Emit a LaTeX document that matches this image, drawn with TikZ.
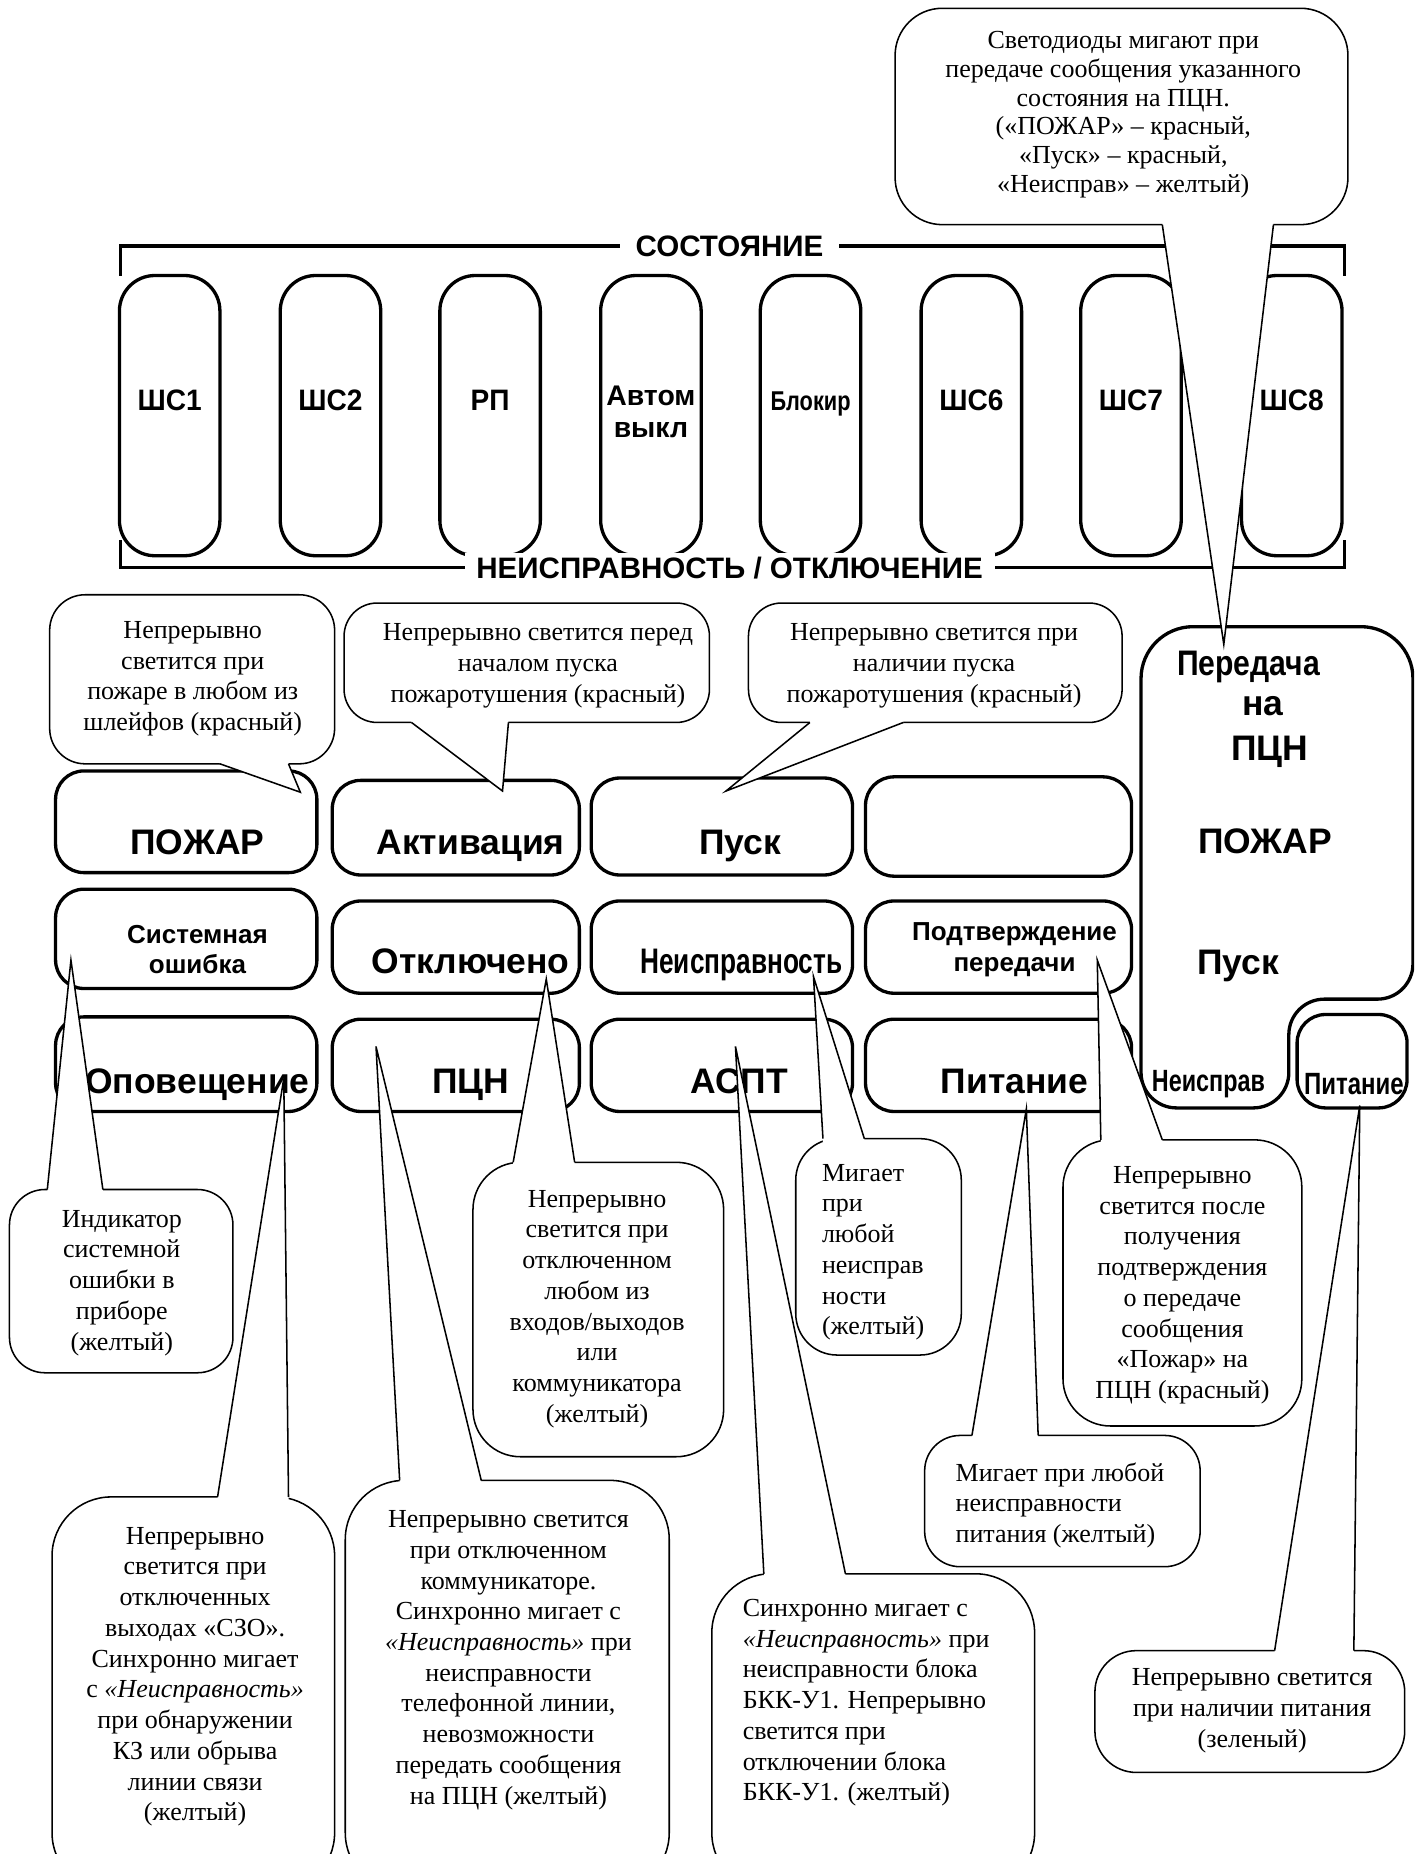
\documentclass[tikz,border=0pt]{standalone}
\usepackage{fontspec}
\setmainfont{Liberation Serif}
\setsansfont{Liberation Sans}
\usetikzlibrary{fit,calc}
\newcommand\fsz[2]{\fontsize{#1}{#2}\selectfont}
\newcommand\ctail[4]{%
  \fill[white] ($(#1)+(0,#4)$) -- (#1) -- (#2) -- (#3) -- ($(#3)+(0,#4)$) -- cycle;
  \draw[tailline] (#1) -- (#2) -- (#3);}
\begin{document}
\begin{tikzpicture}[x=1pt,y=-1pt,
  shbox/.style={draw, line width=2.8pt, rounded corners=30pt, inner sep=0pt},
  pbox/.style={draw, line width=2.8pt, rounded corners=24pt, inner sep=0pt},
  cbox/.style={draw, fill=white, line width=1.3pt, inner sep=0pt},
  tailline/.style={line width=1.3pt},
  ctext/.style={inner sep=0pt, align=center, font=\rmfamily\fsz{22}{26}},
  ltext/.style={inner sep=0pt, align=left, anchor=west, font=\rmfamily\fsz{22}{26}},
  lbl/.style={inner sep=0pt, anchor=base, font=\sffamily\bfseries\fsz{30}{34}},
  brk/.style={line width=2.8pt},
]
\clip (0,0) rectangle (1196,1568);
\fill[white] (0,0) rectangle (1196,1568);

% ---------- upper indicator strip ----------
\foreach \i/\x in {1/101,2/237,3/372,4/508,5/643,6/779,7/914,8/1050}
  \node[shbox, fit={(\x,233)(\x+85,470)}] (s\i) {};
\draw[brk] (102,233) -- (102,208) -- (1137,208) -- (1137,233);
\draw[brk] (102,457) -- (102,480) -- (1137,480) -- (1137,457);
\node[lbl, anchor=center, fill=white, inner xsep=13pt, inner ysep=3pt,
      font=\sffamily\bfseries\fsz{25}{28}] (sost) at (617,208) {СОСТОЯНИЕ};
\node[lbl, fill=white, inner xsep=10pt, inner ysep=3pt,
      font=\sffamily\bfseries\fsz{25}{28}] (neis) at (617,489) {НЕИСПРАВНОСТЬ / ОТКЛЮЧЕНИЕ};

\foreach \n/\x/\t in {1/143.5/ШС1,2/279.5/ШС2,3/414.5/РП,6/821.5/ШС6,7/956.5/ШС7,8/1092.5/ШС8}
  \node[lbl, font=\sffamily\bfseries\fsz{25}{28}] (l\n) at (\x,347) {\scalebox{0.95}[1]{\t}};
\node[inner sep=0pt, align=center, font=\sffamily\bfseries\fsz{24}{27}] (l4) at (550.5,348) {Автом\\выкл};
\node[lbl, font=\sffamily\bfseries\fsz{23}{26}] (l5) at (685.5,347) {\scalebox{0.8}[1]{Блокир}};

% ---------- lower panel ----------
\node[pbox, fit={(47,652)(268,738)}] (p11) {};
\node[pbox, fit={(281,660)(490,740)}] (p12) {};
\node[pbox, fit={(500,658)(721,740)}] (p13) {};
\node[pbox, fit={(732,657)(957,741)}] (p14) {};
\node[pbox, fit={(47,752)(268,836)}] (p21) {};
\node[pbox, fit={(281,762)(490,840)}] (p22) {};
\node[pbox, fit={(500,762)(721,840)}] (p23) {};
\node[pbox, fit={(732,762)(957,840)}] (p24) {};
\node[pbox, fit={(47,860)(268,940)}] (p31) {};
\node[pbox, fit={(281,862)(490,940)}] (p32) {};
\node[pbox, fit={(500,862)(721,940)}] (p33) {};
\node[pbox, fit={(732,862)(957,940)}] (p34) {};
\node[pbox, fit={(1097,858)(1190,937)}] (p35) {};
\draw[line width=2.8pt] (965,700) [rounded corners=44pt] -- (965,530) -- (1195,530) -- (1195,640)
   [rounded corners=30pt] -- (1195,845) -- (1090,845) -- (1090,937) -- (965,937) -- cycle;

\node[lbl] (t11) at (167,723) {ПОЖАР};
\node[lbl] (t12) at (398,723) {Активация};
\node[lbl] (t13) at (626,723) {Пуск};
\node[inner sep=0pt, align=center, font=\sffamily\bfseries\fsz{22}{26}] (t21) at (167,803) {Системная\\ошибка};
\node[lbl] (t22) at (398,823) {Отключено};
\node[lbl] (t23) at (627,823) {\scalebox{0.74}[1]{Неисправность}};
\node[inner sep=0pt, align=center, font=\sffamily\bfseries\fsz{22}{26}] (t24) at (858,803) {Подтверждение\\передачи};
\node[lbl] (t31) at (167,925) {Оповещение};
\node[lbl] (t32) at (398,925) {ПЦН};
\node[lbl] (t33) at (625,925) {АСПТ};
\node[lbl] (t34) at (858,925) {Питание};
\node[lbl] (r1) at (1056,571) {\scalebox{0.85}[1]{Передача}};
\node[lbl] (r2) at (1068,605) {на};
\node[lbl] (r3) at (1074,643) {ПЦН};
\node[lbl] (r4) at (1070,722) {ПОЖАР};
\node[lbl] (r5) at (1047,824) {Пуск};
\node[lbl, font=\sffamily\bfseries\fsz{26}{30}] (r6) at (1022,923) {\scalebox{0.76}[1]{Неисправ}};
\node[lbl, font=\sffamily\bfseries\fsz{26}{30}] (r7) at (1145,926) {\scalebox{0.78}[1]{Питание}};

% ---------- callouts ----------
% C1
\node[cbox, rounded corners=40pt, fit={(757,7)(1140,190)}] (c1) {};
\coordinate (c1a) at (983,190); \coordinate (c1t) at (1035,545); \coordinate (c1b) at (1077,190);
\ctail{c1a}{c1t}{c1b}{-3}
\node[ctext, font=\rmfamily\fsz{22}{24.4}] (c1x) at (950,97) {Светодиоды мигают при\\передаче сообщения указанного\\состояния на ПЦН.\\(«ПОЖАР» – красный,\\«Пуск» – красный,\\«Неисправ» – желтый)};
% C2
\node[cbox, rounded corners=30pt, fit={(42,503)(283,646)}] (c2) {};
\coordinate (c2a) at (186,646); \coordinate (c2t) at (254,670); \coordinate (c2b) at (244,646);
\ctail{c2a}{c2t}{c2b}{-3}
\node[ctext] (c2x) at (163,574) {Непрерывно\\светится при\\пожаре в любом из\\шлейфов (красный)};
% C3
\node[cbox, rounded corners=28pt, fit={(291,510)(600,611)}] (c3) {};
\coordinate (c3a) at (348,611); \coordinate (c3t) at (425,669); \coordinate (c3b) at (430,611);
\ctail{c3a}{c3t}{c3b}{-3}
\node[ctext] (c3x) at (455,563) {Непрерывно светится перед\\началом пуска\\пожаротушения (красный)};
% C4
\node[cbox, rounded corners=28pt, fit={(633,510)(949,611)}] (c4) {};
\coordinate (c4a) at (685,611); \coordinate (c4t) at (614,669); \coordinate (c4b) at (764,611);
\ctail{c4a}{c4t}{c4b}{-3}
\node[ctext] (c4x) at (790,563) {Непрерывно светится при\\наличии пуска\\пожаротушения (красный)};
% C5
\node[cbox, rounded corners=30pt, fit={(8,1006)(197,1161)}] (c5) {};
\coordinate (c5a) at (40,1006); \coordinate (c5t) at (60,812); \coordinate (c5b) at (87,1006);
\ctail{c5a}{c5t}{c5b}{3}
\node[ctext] (c5x) at (103,1085) {Индикатор\\системной\\ошибки в\\приборе\\(желтый)};
% C6
\node[cbox, rounded corners=50pt, fit={(44,1266)(283,1600)}] (c6) {};
\coordinate (c6a) at (184,1266); \coordinate (c6t) at (240,912); \coordinate (c6b) at (244,1266);
\ctail{c6a}{c6t}{c6b}{3}
\node[ctext] (c6x) at (165,1418) {Непрерывно\\светится при\\отключенных\\выходах «СЗО».\\Синхронно мигает\\с \textit{«Неисправность»}\\при обнаружении\\КЗ или обрыва\\линии связи\\(желтый)};
% C7a
\node[cbox, rounded corners=40pt, fit={(400,983)(612,1232)}] (c7) {};
\coordinate (c7a) at (434,983); \coordinate (c7t) at (462,828); \coordinate (c7b) at (486,983);
\ctail{c7a}{c7t}{c7b}{3}
\node[ctext] (c7x) at (505,1107) {Непрерывно\\светится при\\отключенном\\любом из\\входов/выходов\\или\\коммуникатора\\(желтый)};
% C7b
\node[cbox, rounded corners=50pt, fit={(292,1252)(566,1600)}] (c8) {};
\coordinate (c8a) at (338,1252); \coordinate (c8t) at (318,885); \coordinate (c8b) at (407,1252);
\ctail{c8a}{c8t}{c8b}{3}
\node[ctext] (c8x) at (430,1404) {Непрерывно светится\\при отключенном\\коммуникаторе.\\Синхронно мигает с\\\textit{«Неисправность»} при\\неисправности\\телефонной линии,\\невозможности\\передать сообщения\\на ПЦН (желтый)};
% C8
\node[cbox, rounded corners=35pt, fit={(673,963)(813,1146)}] (c9) {};
\coordinate (c9a) at (696,963); \coordinate (c9t) at (688,826); \coordinate (c9b) at (731,963);
\ctail{c9a}{c9t}{c9b}{3}
\node[ltext] (c9x) at (695,1059) {Мигает\\при\\любой\\неисправ\\ности\\(желтый)};
% C9
\node[cbox, rounded corners=50pt, fit={(602,1331)(875,1600)}] (c10) {};
\coordinate (c10a) at (646,1331); \coordinate (c10t) at (622,885); \coordinate (c10b) at (715,1331);
\ctail{c10a}{c10t}{c10b}{3}
\node[ltext] (c10x) at (628,1440) {Синхронно мигает с\\\textit{«Неисправность»} при\\неисправности блока\\БКК-У1. Непрерывно\\светится при\\отключении блока\\БКК-У1. (желтый)};
% C10
\node[cbox, rounded corners=40pt, fit={(899,964)(1101,1206)}] (c11) {};
\coordinate (c11a) at (931,964); \coordinate (c11t) at (928,812); \coordinate (c11b) at (983,964);
\ctail{c11a}{c11t}{c11b}{3}
\node[ctext] (c11x) at (1000,1087) {Непрерывно\\светится после\\получения\\подтверждения\\о передаче\\сообщения\\«Пожар» на\\ПЦН (красный)};
% C11
\node[cbox, rounded corners=30pt, fit={(782,1214)(1015,1325)}] (c12) {};
\coordinate (c12a) at (822,1214); \coordinate (c12t) at (868,938); \coordinate (c12b) at (878,1214);
\ctail{c12a}{c12t}{c12b}{3}
\node[ltext] (c12x) at (808,1273) {Мигает при любой\\неисправности\\питания (желтый)};
% C12
\node[cbox, rounded corners=35pt, fit={(926,1396)(1188,1499)}] (c13) {};
\coordinate (c13a) at (1078,1396); \coordinate (c13t) at (1150,935); \coordinate (c13b) at (1145,1396);
\ctail{c13a}{c13t}{c13b}{3}
\node[ctext] (c13x) at (1059,1447) {Непрерывно светится\\при наличии питания\\(зеленый)};
\end{tikzpicture}
\end{document}
